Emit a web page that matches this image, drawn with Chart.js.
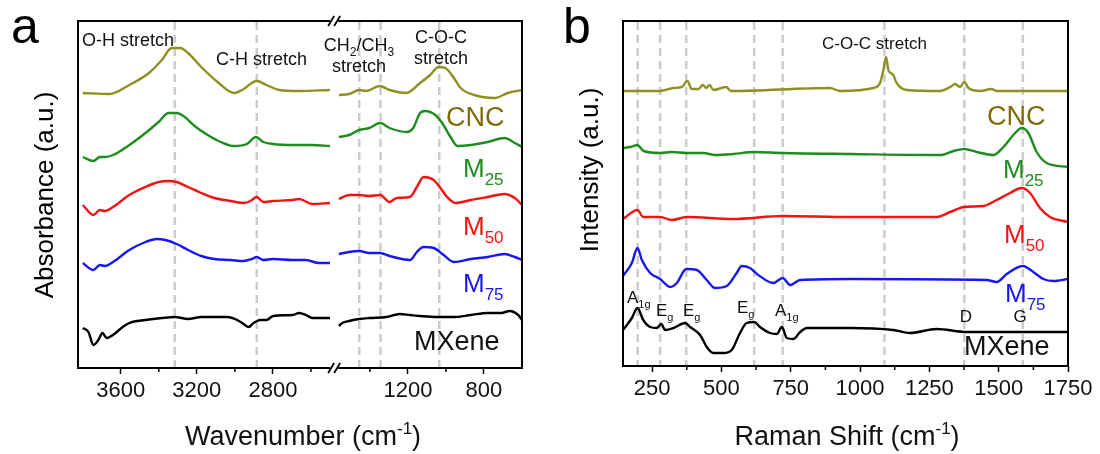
<!DOCTYPE html>
<html>
<head>
<meta charset="utf-8">
<script src="https://cdn.jsdelivr.net/npm/chart.js@4.4.1/dist/chart.umd.min.js"></script>
<style>
  html, body { margin: 0; padding: 0; background: #fff; }
  #wrap { position: relative; width: 1100px; height: 454px; }
  .box { position: absolute; top: 0; width: 550px; height: 454px; }
</style>
</head>
<body>
<div id="wrap">
  <div class="box" style="left:0"><canvas id="ftir" width="550" height="454"></canvas></div>
  <div class="box" style="left:550px"><canvas id="raman" width="550" height="454"></canvas></div>
</div>
<script>
const FONT = '"Liberation Sans", Arial, Helvetica, sans-serif';

// ---- panel a : FTIR (broken wavenumber axis) ----
const ftirTicks = [3600, 3200, 2800, 1200, 800];
const ftirMinor = [3400, 3000, 2600, 1400, 1000];
const ftirMarks = [3316, 2885, 1456, 1344, 1035];

// [wavenumber, absorbance a.u.] ; high range 3800-2500, low range 1600-600
const cncFtirHigh = [[3800,275],[3658,274],[3555,283],[3452,295],[3384,308],[3332,320],[3289,320],[3246,315],[3177,301],[3091,286],[3006,275],[2962,278],[2885,287],[2834,283],[2765,278],[2662,277],[2500,278]];
const cncFtirLow = [[1563,273],[1509,274],[1456,278],[1420,277],[1349,282],[1296,278],[1207,275],[1136,285],[1083,293],[1038,301],[1003,300],[958,290],[923,280],[852,273],[745,270],[674,275],[600,278]];
const m25FtirHigh = [[3800,211],[3744,207],[3710,211],[3684,211],[3641,213],[3555,223],[3470,235],[3401,246],[3349,255],[3306,255],[3263,251],[3212,242],[3143,233],[3074,226],[3006,222],[2937,224],[2889,231],[2851,226],[2799,224],[2696,223],[2593,223],[2500,222]];
const m25FtirLow = [[1563,231],[1509,233],[1456,238],[1403,240],[1346,245],[1296,240],[1207,236],[1172,240],[1136,255],[1109,257],[1056,253],[1020,245],[976,231],[940,222],[869,223],[780,226],[692,230],[638,225],[600,221]];
const m50FtirHigh = [[3800,163],[3744,153],[3710,158],[3684,157],[3641,161],[3555,173],[3470,181],[3401,186],[3349,187],[3306,186],[3246,181],[3177,175],[3108,170],[3022,167],[2954,165],[2918,167],[2885,171],[2851,166],[2799,167],[2696,168],[2662,169],[2593,164],[2500,165]];
const m50FtirLow = [[1563,169],[1509,173],[1456,173],[1403,172],[1346,173],[1296,166],[1260,170],[1189,171],[1153,181],[1118,191],[1065,188],[1029,180],[994,171],[949,165],[869,168],[780,171],[692,174],[638,170],[600,163]];
const m75FtirHigh = [[3800,105],[3744,98],[3710,103],[3684,102],[3641,106],[3555,118],[3470,126],[3410,129],[3366,128],[3306,124],[3246,118],[3177,112],[3108,109],[3022,108],[2954,107],[2911,109],[2885,111],[2851,108],[2799,109],[2696,108],[2627,108],[2559,105],[2500,105]];
const m75FtirLow = [[1563,114],[1509,116],[1456,117],[1403,115],[1346,115],[1296,112],[1189,108],[1153,116],[1118,121],[1065,120],[1012,113],[958,106],[869,109],[780,111],[692,114],[638,111],[600,108]];
const mxFtirHigh = [[3800,40],[3770,36],[3744,23],[3718,28],[3696,35],[3675,30],[3641,33],[3590,41],[3555,45],[3470,48],[3384,50],[3315,51],[3246,49],[3177,51],[3040,51],[2988,48],[2954,44],[2928,41],[2902,45],[2868,48],[2834,48],[2799,52],[2696,53],[2662,55],[2627,53],[2593,50],[2500,50]];
const mxFtirLow = [[1563,42],[1545,45],[1509,47],[1456,49],[1403,50],[1314,51],[1243,54],[1189,53],[1136,52],[1047,51],[958,51],[869,53],[780,55],[709,55],[665,57],[620,53],[600,48]];

// ---- panel b : Raman ----
const ramanTicks = [250, 500, 750, 1000, 1250, 1500, 1750];
const ramanMinor = [375, 625, 875, 1125, 1375, 1625];
const ramanMarks = [198, 279, 373, 618, 721, 1088, 1376, 1587];

const cncRaman = [[145,275],[279,275],[327,278],[357,279],[377,285],[393,277],[417,277],[433,281],[445,278],[457,281],[471,276],[517,279],[534,275],[892,278],[928,275],[1048,278],[1072,283],[1084,296],[1094,309],[1102,296],[1111,293],[1120,291],[1130,284],[1144,279],[1168,276],[1289,275],[1325,279],[1343,282],[1361,279],[1376,284],[1391,278],[1433,275],[1475,277],[1493,275],[1750,275]];
const m25Raman = [[145,218],[171,219],[197,221],[219,215],[279,213],[321,214],[375,213],[435,213],[477,211],[543,212],[618,214],[721,213],[964,212],[1289,211],[1337,215],[1376,217],[1421,214],[1481,211],[1517,219],[1553,231],[1583,238],[1607,233],[1637,214],[1673,203],[1750,199]];
const m50Raman = [[145,147],[197,156],[218,149],[279,149],[321,146],[375,149],[542,147],[721,150],[964,149],[1277,149],[1325,154],[1376,159],[1445,160],[1493,166],[1541,173],[1583,178],[1613,173],[1649,158],[1685,149],[1750,144]];
const m75Raman = [[145,90],[177,103],[197,118],[213,106],[243,93],[279,87],[315,79],[339,83],[373,97],[411,96],[447,86],[477,78],[519,80],[555,93],[573,100],[603,98],[633,91],[687,83],[721,88],[748,81],[784,86],[964,87],[1457,86],[1493,84],[1529,92],[1587,100],[1625,94],[1661,87],[1697,85],[1750,87]];
const mxRaman = [[145,36],[177,48],[197,58],[218,46],[243,39],[267,38],[283,42],[297,36],[327,38],[369,43],[387,39],[423,31],[447,19],[471,13],[507,13],[537,16],[567,33],[591,43],[618,44],[639,39],[675,33],[700,32],[718,39],[736,28],[760,27],[784,34],[808,38],[964,38],[1120,36],[1180,33],[1276,37],[1385,34],[1750,34]];

const OLIVE = '#8f8f22', OLIVE_TXT = '#7f6a0a', GREEN = '#1f8c1f', RED = '#f21414', BLUE = '#1717f0', BLACK = '#000';

// broken axis: values above BREAK_HI are shifted down so the gap shrinks to GAP
const BREAK_HI = 2500, BREAK_LO = 1600, GAP = 10;
const tx = wn => wn >= BREAK_HI ? wn - (BREAK_HI - BREAK_LO) + GAP : wn;

function ftirSeries(high, low) {
  const pts = high.map(p => ({ x: tx(p[0]), y: p[1] }));
  pts.push({ x: BREAK_LO + GAP / 2, y: null });
  return pts.concat(low.map(p => ({ x: tx(p[0]), y: p[1] })));
}
const ramanSeries = arr => arr.map(p => ({ x: p[0], y: p[1] }));

function lineSet(data, color) {
  return {
    data, borderColor: color, borderWidth: 2.4, pointRadius: 0,
    cubicInterpolationMode: 'monotone', spanGaps: false, fill: false,
  };
}

function richText(ctx, parts, x, y, size, color, align) {
  ctx.save();
  ctx.fillStyle = color;
  ctx.textBaseline = 'alphabetic';
  ctx.textAlign = 'left';
  const fontFor = m => (m ? Math.round(size * 0.64) : size) + 'px ' + FONT;
  const widths = parts.map(([t, m]) => { ctx.font = fontFor(m); return ctx.measureText(t).width; });
  const total = widths.reduce((a, b) => a + b, 0);
  let cx = align === 'center' ? x - total / 2 : align === 'right' ? x - total : x;
  parts.forEach(([t, m], i) => {
    ctx.font = fontFor(m);
    const dy = m === 'sub' ? size * 0.3 : m === 'sup' ? -size * 0.4 : 0;
    ctx.fillText(t, cx, y + dy);
    cx += widths[i];
  });
  ctx.restore();
}

function vertText(ctx, text, x, y, size) {
  ctx.save();
  ctx.translate(x, y);
  ctx.rotate(-Math.PI / 2);
  ctx.font = size + 'px ' + FONT;
  ctx.fillStyle = '#000';
  ctx.textAlign = 'center';
  ctx.textBaseline = 'middle';
  ctx.fillText(text, 0, 0);
  ctx.restore();
}

function dashedMarks(chart, values) {
  const { ctx, chartArea: a, scales: { x } } = chart;
  ctx.save();
  ctx.strokeStyle = '#cccccc';
  ctx.lineWidth = 2.5;
  ctx.setLineDash([8, 5]);
  values.forEach(v => {
    const px = x.getPixelForValue(v);
    ctx.beginPath();
    ctx.moveTo(px, a.top + 1);
    ctx.lineTo(px, a.bottom);
    ctx.stroke();
  });
  ctx.restore();
}

function minorTicks(chart, values) {
  const { ctx, chartArea: a, scales: { x } } = chart;
  ctx.save();
  ctx.strokeStyle = '#000';
  ctx.lineWidth = 1.5;
  values.forEach(v => {
    const px = x.getPixelForValue(v);
    ctx.beginPath();
    ctx.moveTo(px, a.bottom);
    ctx.lineTo(px, a.bottom + 4);
    ctx.stroke();
  });
  ctx.restore();
}

function xAxis(min, max, reverse, ticksAt, labels, height) {
  return {
    type: 'linear', min, max, reverse,
    afterBuildTicks: s => { s.ticks = ticksAt.map(v => ({ value: v })); },
    afterFit: s => { s.height = height; },
    ticks: {
      autoSkip: false, maxRotation: 0, padding: 4, color: '#111',
      font: { family: FONT, size: 22 },
      callback: (v, i) => labels[i],
    },
    grid: { drawOnChartArea: false, tickLength: 6, tickWidth: 1.5, tickColor: '#000' },
    border: { display: false },
  };
}

// ---------- chart a ----------
const ftirPlugin = {
  id: 'ftirDeco',
  beforeDatasetsDraw(chart) { dashedMarks(chart, ftirMarks.map(tx)); },
  afterDraw(chart) {
    const { ctx, chartArea: a, scales: { x } } = chart;
    minorTicks(chart, ftirMinor.map(tx));
    // frame with break
    const mid = x.getPixelForValue(BREAK_LO - 12);
    ctx.save();
    ctx.strokeStyle = '#000';
    ctx.lineWidth = 2;
    ctx.beginPath();
    ctx.moveTo(a.left, a.top); ctx.lineTo(a.left, a.bottom);
    ctx.moveTo(a.right, a.top); ctx.lineTo(a.right, a.bottom);
    [a.top, a.bottom].forEach(yy => {
      ctx.moveTo(a.left - 1, yy); ctx.lineTo(mid - 4, yy);
      ctx.moveTo(mid + 4, yy); ctx.lineTo(a.right + 1, yy);
    });
    ctx.stroke();
    ctx.lineWidth = 1.8;
    ctx.beginPath();
    [a.top, a.bottom].forEach(yy => {
      [-3, 3].forEach(dx => {
        ctx.moveTo(mid + dx - 3, yy + 5);
        ctx.lineTo(mid + dx + 3, yy - 5);
      });
    });
    ctx.stroke();
    ctx.restore();

    // annotations
    richText(ctx, [['O-H stretch']], 82, 46, 18, '#111', 'left');
    richText(ctx, [['C-H stretch']], 216, 65, 18, '#111', 'left');
    richText(ctx, [['CH'], ['2', 'sub'], ['/CH'], ['3', 'sub']], 359, 51, 18, '#111', 'center');
    richText(ctx, [['stretch']], 359, 72, 18, '#111', 'center');
    richText(ctx, [['C-O-C']], 441, 43, 18, '#111', 'center');
    richText(ctx, [['stretch']], 441, 64, 18, '#111', 'center');

    // series labels
    richText(ctx, [['CNC']], 446, 126, 27, OLIVE_TXT, 'left');
    richText(ctx, [['M'], ['25', 'sub']], 463, 177, 26, GREEN, 'left');
    richText(ctx, [['M'], ['50', 'sub']], 463, 235, 26, RED, 'left');
    richText(ctx, [['M'], ['75', 'sub']], 463, 292, 26, BLUE, 'left');
    richText(ctx, [['MXene']], 414, 350, 27, '#111', 'left');

    // panel letter and axis titles
    richText(ctx, [['a']], 11, 43, 50, '#000', 'left');
    vertText(ctx, 'Absorbance (a.u.)', 46, 195, 26);
    richText(ctx, [['Wavenumber (cm'], ['-1', 'sup'], [')']], 303, 445, 27, '#111', 'center');
  },
};

new Chart(document.getElementById('ftir'), {
  type: 'line',
  data: {
    datasets: [
      lineSet(ftirSeries(cncFtirHigh, cncFtirLow), OLIVE),
      lineSet(ftirSeries(m25FtirHigh, m25FtirLow), GREEN),
      lineSet(ftirSeries(m50FtirHigh, m50FtirLow), RED),
      lineSet(ftirSeries(m75FtirHigh, m75FtirLow), BLUE),
      lineSet(ftirSeries(mxFtirHigh, mxFtirLow), BLACK),
    ],
  },
  options: {
    responsive: false, animation: false, devicePixelRatio: 1,
    layout: { padding: { left: 78, right: 28, top: 21, bottom: 0 } },
    plugins: { legend: { display: false }, tooltip: { enabled: false } },
    scales: {
      x: xAxis(600, tx(3825), true, ftirTicks.map(tx), ftirTicks, 86),
      y: { display: false, min: 0, max: 347 },
    },
  },
  plugins: [ftirPlugin],
});

// ---------- chart b ----------
const ramanPlugin = {
  id: 'ramanDeco',
  beforeDatasetsDraw(chart) { dashedMarks(chart, ramanMarks); },
  afterDraw(chart) {
    const { ctx, chartArea: a } = chart;
    minorTicks(chart, ramanMinor);
    ctx.save();
    ctx.strokeStyle = '#000';
    ctx.lineWidth = 2;
    ctx.strokeRect(a.left, a.top, a.right - a.left, a.bottom - a.top);
    ctx.restore();

    richText(ctx, [['C-O-C stretch']], 272, 49, 17, '#111', 'left');
    richText(ctx, [['A'], ['1g', 'sub']], 77, 303, 17, '#111', 'left');
    richText(ctx, [['E'], ['g', 'sub']], 106, 316, 17, '#111', 'left');
    richText(ctx, [['E'], ['g', 'sub']], 133, 316, 17, '#111', 'left');
    richText(ctx, [['E'], ['g', 'sub']], 187, 313, 17, '#111', 'left');
    richText(ctx, [['A'], ['1g', 'sub']], 225, 316, 17, '#111', 'left');
    richText(ctx, [['D']], 416, 322, 17, '#111', 'center');
    richText(ctx, [['G']], 470, 322, 17, '#111', 'center');

    richText(ctx, [['CNC']], 437, 125, 27, OLIVE_TXT, 'left');
    richText(ctx, [['M'], ['25', 'sub']], 453, 178, 26, GREEN, 'left');
    richText(ctx, [['M'], ['50', 'sub']], 454, 243, 26, RED, 'left');
    richText(ctx, [['M'], ['75', 'sub']], 455, 302, 26, BLUE, 'left');
    richText(ctx, [['MXene']], 414, 355, 27, '#111', 'left');

    richText(ctx, [['b']], 13, 43, 50, '#000', 'left');
    vertText(ctx, 'Intensity (a.u.)', 41, 170, 26);
    richText(ctx, [['Raman Shift (cm'], ['-1', 'sup'], [')']], 297, 445, 27, '#111', 'center');
  },
};

new Chart(document.getElementById('raman'), {
  type: 'line',
  data: {
    datasets: [
      lineSet(ramanSeries(cncRaman), OLIVE),
      lineSet(ramanSeries(m25Raman), GREEN),
      lineSet(ramanSeries(m50Raman), RED),
      lineSet(ramanSeries(m75Raman), BLUE),
      lineSet(ramanSeries(mxRaman), BLACK),
    ],
  },
  options: {
    responsive: false, animation: false, devicePixelRatio: 1,
    layout: { padding: { left: 73, right: 32, top: 21, bottom: 0 } },
    plugins: { legend: { display: false }, tooltip: { enabled: false } },
    scales: {
      x: xAxis(145, 1750, false, ramanTicks, ramanTicks, 88),
      y: { display: false, min: 0, max: 345 },
    },
  },
  plugins: [ramanPlugin],
});
</script>
</body>
</html>
